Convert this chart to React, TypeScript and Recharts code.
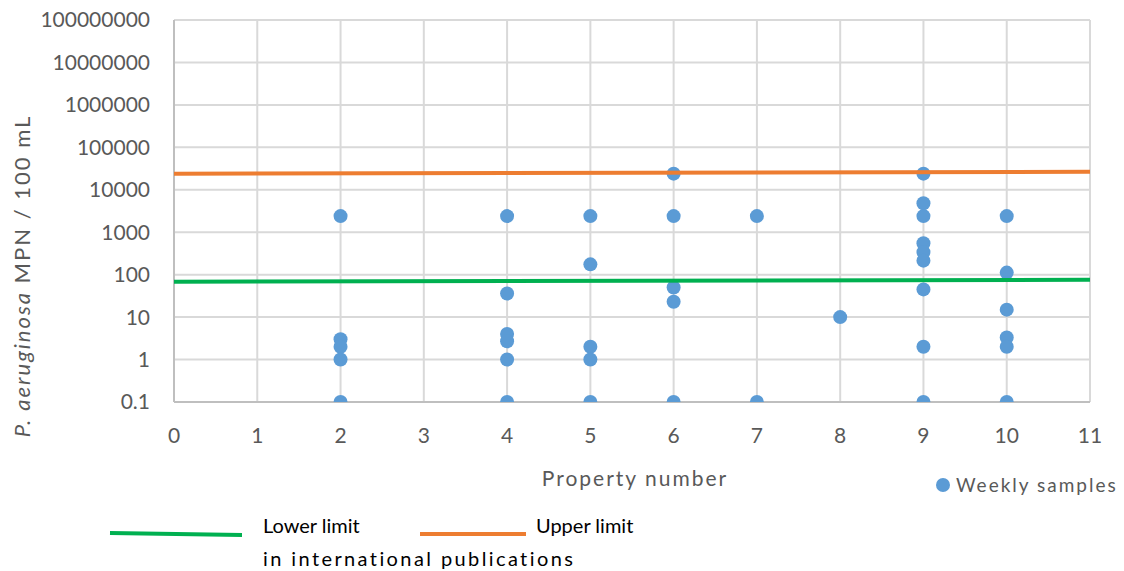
import React from 'react';
import { ScatterChart, Scatter, XAxis, YAxis, CartesianGrid } from 'recharts';

const properties = [2, 2, 2, 2, 2, 4, 4, 4, 4, 4, 4, 5, 5, 5, 5, 5, 6, 6, 6, 6, 6, 7, 7, 8, 9, 9, 9, 9, 9, 9, 9, 9, 9, 10, 10, 10, 10, 10, 10];
const mpnValues = [2400, 3, 2, 1, 0.1, 2400, 36, 4, 2.7, 1, 0.1, 2400, 175, 2, 1, 0.1, 24000, 2400, 50, 23, 0.1, 2400, 0.1, 10, 24000, 4800, 2400, 550, 340, 214, 45, 2, 0.1, 2400, 112, 15, 3.3, 2, 0.1];

const limitX = [0, 11];
const lowerLimit = [68, 76];
const upperLimit = [24000, 26500];

const xTicks = [0, 1, 2, 3, 4, 5, 6, 7, 8, 9, 10, 11];
const yTicks = [0.1, 1, 10, 100, 1000, 10000, 100000, 1000000, 10000000, 100000000];

const samples = properties.map((p, i) => ({ x: p, y: mpnValues[i] }));
const lowerData = limitX.map((x, i) => ({ x, y: lowerLimit[i] }));
const upperData = limitX.map((x, i) => ({ x, y: upperLimit[i] }));

const FONT = 'Lato, "Open Sans", sans-serif';

const YLabel = () => (
  <text
    x={0}
    y={0}
    transform="translate(30, 276) rotate(-90)"
    textAnchor="middle"
    fill="#595959"
    fontSize={22}
    letterSpacing={2}
    fontFamily={FONT}
  >
    <tspan fontStyle="italic">P. aeruginosa</tspan>
    <tspan> MPN / 100 mL</tspan>
  </text>
);

const LegendOverlay = () => (
  <svg width={1124} height={571} style={{ position: 'absolute', left: 0, top: 0, pointerEvents: 'none' }}>
    <circle cx={943} cy={485} r={7} fill="#5b9bd5" />
    <text x={956} y={492} fill="#595959" fontSize={19} letterSpacing={2} fontFamily={FONT}>Weekly samples</text>
    <line x1={110} y1={533} x2={242} y2={535} stroke="#00b050" strokeWidth={4} />
    <text x={263} y={533} fill="#000" fontSize={20} fontFamily={FONT}>Lower limit</text>
    <line x1={420} y1={534} x2={526} y2={534} stroke="#ed7d31" strokeWidth={4} />
    <text x={536} y={533} fill="#000" fontSize={20} fontFamily={FONT}>Upper limit</text>
    <text x={263} y={566} fill="#000" fontSize={20} letterSpacing={2.4} fontFamily={FONT}>in international publications</text>
  </svg>
);

const Blank = () => <g />;

export default function App() {
  return (
    <div style={{ position: 'absolute', left: 0, top: 0, width: 1124, height: 571, background: '#fff' }}>
      <ScatterChart width={1124} height={571} margin={{ top: 20, right: 34, bottom: 139, left: 10 }}>
        <CartesianGrid stroke="#d9d9d9" strokeWidth={2} verticalValues={xTicks} horizontalValues={yTicks} />
        <XAxis
          type="number"
          dataKey="x"
          domain={[0, 11]}
          ticks={xTicks}
          interval={0}
          allowDataOverflow
          height={30}
          axisLine={{ stroke: '#bfbfbf', strokeWidth: 2 }}
          tickLine={false}
          tickMargin={20}
          tick={{ fill: '#595959', fontSize: 21, fontFamily: FONT }}
        />
        <YAxis
          type="number"
          dataKey="y"
          scale="log"
          domain={[0.1, 100000000]}
          ticks={yTicks}
          interval={0}
          allowDataOverflow
          width={164}
          axisLine={{ stroke: '#bfbfbf', strokeWidth: 2 }}
          tickLine={false}
          tickMargin={18}
          tickFormatter={(v: number) => String(v)}
          tick={{ fill: '#595959', fontSize: 21, fontFamily: FONT }}
          label={<YLabel />}
        />
        <Scatter
          name="Weekly samples"
          data={samples}
          fill="#5b9bd5"
          isAnimationActive={false}
          shape={(props: any) => <circle cx={props.cx} cy={props.cy} r={7} fill="#5b9bd5" />}
        />
        <Scatter
          name="Lower limit"
          data={lowerData}
          line={{ stroke: '#00b050', strokeWidth: 4 }}
          shape={<Blank />}
          legendType="none"
          isAnimationActive={false}
        />
        <Scatter
          name="Upper limit"
          data={upperData}
          line={{ stroke: '#ed7d31', strokeWidth: 4 }}
          shape={<Blank />}
          legendType="none"
          isAnimationActive={false}
        />
        <text x={635} y={486} textAnchor="middle" fill="#595959" fontSize={21} letterSpacing={2} fontFamily={FONT}>Property number</text>
      </ScatterChart>
      <LegendOverlay />
    </div>
  );
}
